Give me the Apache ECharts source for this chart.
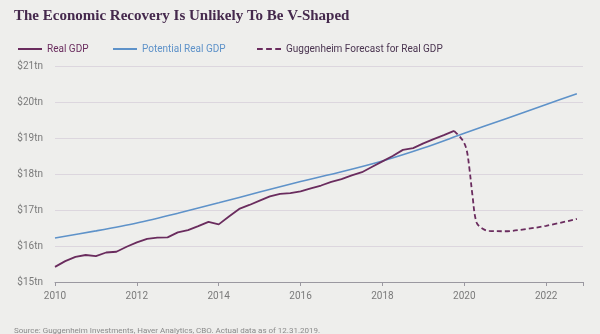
<!DOCTYPE html>
<html><head><meta charset="utf-8">
<script src="https://cdn.jsdelivr.net/npm/echarts@6/dist/echarts.min.js"></script>
<style>html,body{margin:0;padding:0;background:#eeeeec;}#c{width:600px;height:334px;}</style>
</head><body><div id="c"></div>
<script>
const quarters = [];
for (let y = 2010; y <= 2019; y++) for (let q = 0; q < 4; q++) quarters.push(y + q * 0.25);
const realGDP = [
  15.42, 15.58, 15.70, 15.75,
  15.72, 15.82, 15.84, 15.98,
  16.10, 16.20, 16.23, 16.24,
  16.38, 16.44, 16.55, 16.67,
  16.60, 16.82, 17.03, 17.14,
  17.26, 17.38, 17.45, 17.47,
  17.52, 17.60, 17.68, 17.78,
  17.86, 17.96, 18.05, 18.20,
  18.35, 18.50, 18.67, 18.72,
  18.85, 18.97, 19.08, 19.20
];
const potYears = [2010, 2011, 2012, 2013, 2014, 2015, 2016, 2017, 2018, 2019, 2020, 2021, 2022, 2022.75];
const potential = [16.22, 16.42, 16.64, 16.91, 17.20, 17.50, 17.79, 18.06, 18.36, 18.72, 19.13, 19.53, 19.93, 20.23];
const fcYears = [2019.75, 2019.95, 2020.05, 2020.12, 2020.2, 2020.3, 2020.45, 2020.6, 2021.0, 2021.5, 2022.0, 2022.75];
const forecast = [19.20, 18.95, 18.70, 18.20, 17.40, 16.65, 16.48, 16.42, 16.41, 16.47, 16.56, 16.75];
const yTicks = ['$15tn', '$16tn', '$17tn', '$18tn', '$19tn', '$20tn', '$21tn'];
const names = ['Real GDP', 'Potential Real GDP', 'Guggenheim Forecast for Real GDP'];

const zip = (xs, ys) => xs.map((x, i) => [x, ys[i]]);
const PURPLE = '#6a2c5e', BLUE = '#5e92c9';
const font = '"Liberation Sans Narrow", "Roboto", sans-serif';
const SOLID = 'rect';
const DASHED = 'path://M0,0h6v2h-6z M9.5,0h6v2h-6z M19,0h6v2h-6z';

function legendAt(left, name, icon, textColor) {
  return {
    left: left, top: 39, itemWidth: 24, itemHeight: 2, itemGap: 0,
    textStyle: { fontFamily: font, fontSize: 10, color: textColor, padding: [0, 0, 0, 0] },
    data: [{ name: name, icon: icon }]
  };
}

const chart = echarts.init(document.getElementById('c'));
chart.setOption({
  backgroundColor: '#eeeeec',
  animation: false,
  title: [{
    text: 'The Economic Recovery Is Unlikely To Be V-Shaped',
    left: 9, top: 4,
    textStyle: { fontFamily: '"Liberation Serif", "DejaVu Serif", serif', fontWeight: 'bold', fontSize: 15, color: '#45294d' }
  }, {
    text: 'Source: Guggenheim Investments, Haver Analytics, CBO. Actual data as of 12.31.2019.',
    left: 9, top: 322,
    textStyle: { fontFamily: font, fontWeight: 'normal', fontSize: 8, color: '#8a8a8a' }
  }],
  legend: [
    legendAt(13, names[0], SOLID, PURPLE),
    legendAt(108, names[1], SOLID, BLUE),
    legendAt(252, names[2], DASHED, '#4a3450')
  ],
  grid: { left: 55, right: 17, top: 66, bottom: 52 },
  xAxis: {
    type: 'value', min: 2010, max: 2022.9, interval: 2,
    axisLine: { lineStyle: { color: '#9a98a0', width: 1 } },
    axisTick: { show: true, length: 4, lineStyle: { color: '#9a98a0' } },
    axisLabel: { color: '#7a7a7a', fontFamily: font, fontSize: 10, margin: 9,
      formatter: v => (Number.isInteger(v) ? String(v) : '') },
    splitLine: { show: false }
  },
  yAxis: {
    type: 'value', min: 15, max: 21, interval: 1,
    axisLine: { show: false }, axisTick: { show: false },
    axisLabel: { color: '#7a7a7a', fontFamily: font, fontSize: 10, margin: 12,
      formatter: v => yTicks[Math.round(v - 15)] },
    splitLine: { lineStyle: { color: '#dcd6de', width: 1 } }
  },
  series: [
    { name: names[0], type: 'line', symbol: 'none', data: zip(quarters, realGDP),
      lineStyle: { color: PURPLE, width: 1.8 }, itemStyle: { color: PURPLE }, z: 3 },
    { name: names[1], type: 'line', symbol: 'none', data: zip(potYears, potential), smooth: 0.3,
      lineStyle: { color: BLUE, width: 1.6 }, itemStyle: { color: BLUE }, z: 2 },
    { name: names[2], type: 'line', symbol: 'none', data: zip(fcYears, forecast), smooth: 0.35,
      lineStyle: { color: PURPLE, width: 1.8, type: [5, 3] }, itemStyle: { color: PURPLE }, z: 3 }
  ]
});
</script></body></html>
